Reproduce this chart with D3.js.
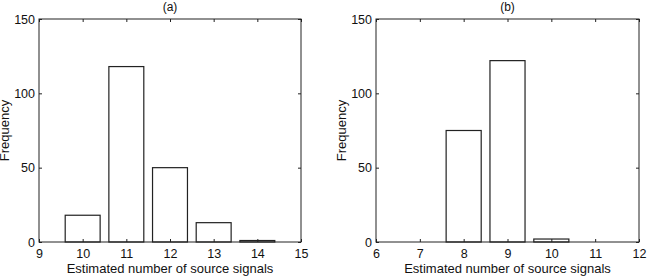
<!DOCTYPE html>
<html>
<head>
    <meta charset="utf-8">
    <title>Estimated number of source signals</title>
    <style>
        body { margin: 0; background: #fff; }
        svg { display: block; }
        text { font-family: "Liberation Sans", Arial, sans-serif; fill: #111; }
        .frame { fill: none; stroke: #222; stroke-width: 1; }
        .bar { fill: #fff; stroke: #222; stroke-width: 1.2; }
        .tick line { stroke: #222; }
    </style>
    <script src="https://cdn.jsdelivr.net/npm/d3@7"></script>
</head>
<body>
    <svg width="647" height="277"></svg>

    <script>
        // panel (a)
        var catsA = [10, 11, 12, 13, 14];
        var freqA = [18, 118, 50, 13, 1];
        var xTicksA = [9, 10, 11, 12, 13, 14, 15];

        // panel (b)
        var catsB = [8, 9, 10];
        var freqB = [75, 122, 2];
        var xTicksB = [6, 7, 8, 9, 10, 11, 12];

        var yTicks = [0, 50, 100, 150];

        var svg = d3.select("svg");

        function drawPanel(left, right, title, cats, freq, xTicks)
        {
            var top = 19, bottom = 242;
            var x = d3.scaleLinear().domain([xTicks[0], xTicks[xTicks.length - 1]]).range([left, right]);
            var y = d3.scaleLinear().domain([0, 150]).range([bottom, top]);
            var g = svg.append("g");

            g.selectAll("rect.bar")
                .data(cats)
                .enter().append("rect")
                .attr("class", "bar")
                .attr("x", function (d) { return x(d - 0.4); })
                .attr("width", function (d) { return x(d + 0.4) - x(d - 0.4); })
                .attr("y", function (d, i) { return y(freq[i]); })
                .attr("height", function (d, i) { return bottom - y(freq[i]); });

            g.append("rect").attr("class", "frame")
                .attr("x", left).attr("y", top)
                .attr("width", right - left).attr("height", bottom - top);

            // inward ticks on all four sides, MATLAB style
            var tl = 3;
            g.append("g").attr("transform", "translate(0," + bottom + ")")
                .call(d3.axisBottom(x).tickValues(xTicks).tickFormat(d3.format("d")).tickSizeInner(-tl).tickSizeOuter(0).tickPadding(7))
                .call(function (a) { a.select(".domain").remove(); a.selectAll("text").style("font-size", "12.5px"); });
            g.append("g").attr("transform", "translate(0," + top + ")")
                .call(d3.axisTop(x).tickValues(xTicks).tickSizeInner(-tl).tickSizeOuter(0).tickFormat(""))
                .call(function (a) { a.select(".domain").remove(); });
            g.append("g").attr("transform", "translate(" + left + ",0)")
                .call(d3.axisLeft(y).tickValues(yTicks).tickFormat(d3.format("d")).tickSizeInner(-tl).tickSizeOuter(0).tickPadding(4))
                .call(function (a) { a.select(".domain").remove(); a.selectAll("text").style("font-size", "12.5px"); });
            g.append("g").attr("transform", "translate(" + right + ",0)")
                .call(d3.axisRight(y).tickValues(yTicks).tickSizeInner(-tl).tickSizeOuter(0).tickFormat(""))
                .call(function (a) { a.select(".domain").remove(); });

            g.selectAll(".tick text").attr("font-family", null);

            var cx = (left + right) / 2;
            g.append("text").attr("x", cx).attr("y", 11)
                .attr("text-anchor", "middle").style("font-size", "12px").text(title);
            g.append("text").attr("x", cx).attr("y", 273)
                .attr("text-anchor", "middle").style("font-size", "13px")
                .text("Estimated number of source signals");
            g.append("text")
                .attr("transform", "translate(" + (left - 30) + "," + ((top + bottom) / 2) + ") rotate(-90)")
                .attr("text-anchor", "middle").style("font-size", "13px").text("Frequency");
        }

        drawPanel(39, 301, "(a)", catsA, freqA, xTicksA);
        drawPanel(376, 639, "(b)", catsB, freqB, xTicksB);
    </script>
</body>
</html>
